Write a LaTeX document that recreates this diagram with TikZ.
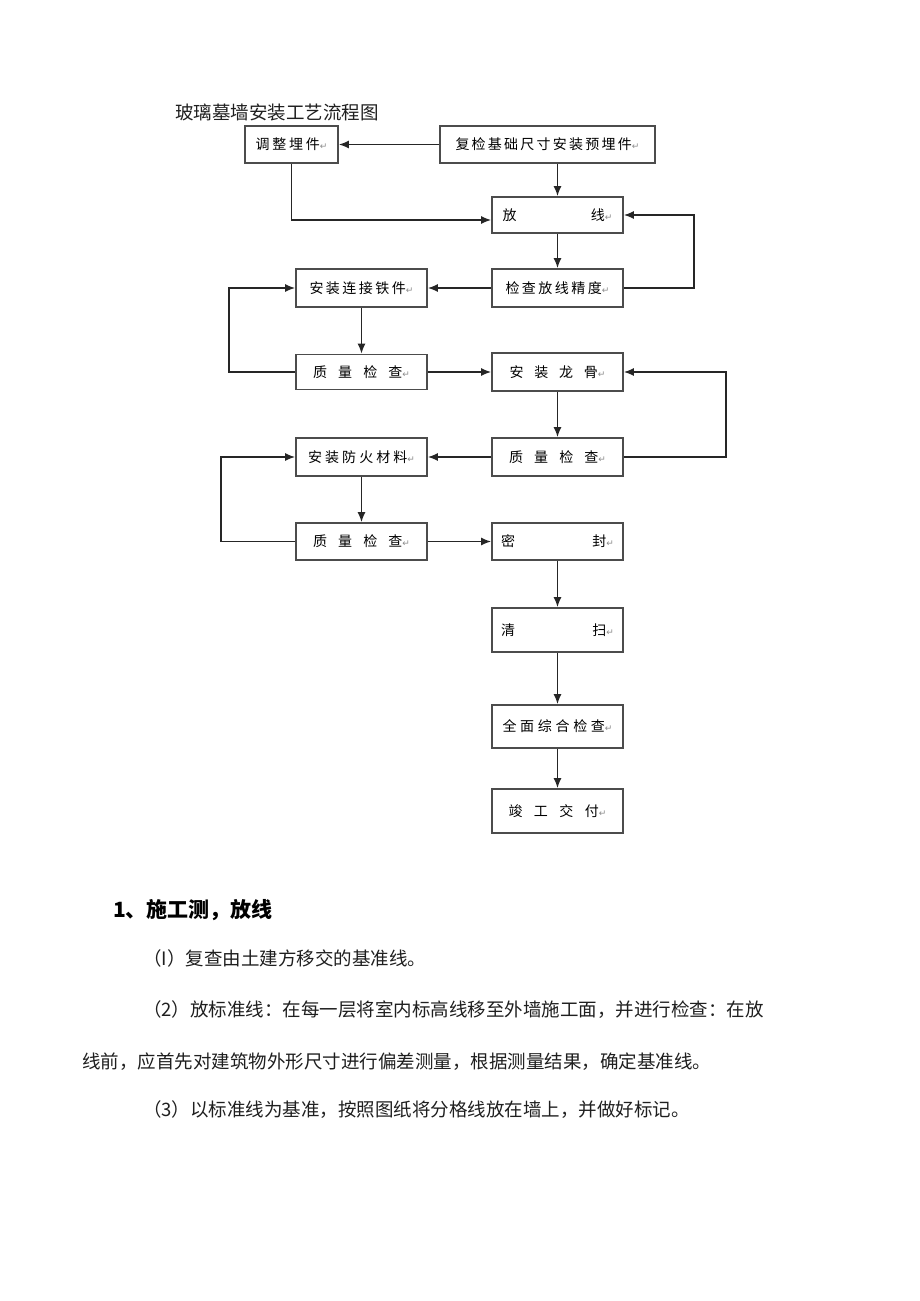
\documentclass[tikz,border=0pt]{standalone}
\usepackage{fontspec}
\setmainfont{Noto Sans CJK SC}
\newfontfamily\symfont{DejaVu Sans}
\usetikzlibrary{arrows.meta}

% return mark printed after each box label
\newcommand{\retmark}{{\symfont\color{black!45}\fontsize{9}{9}\selectfont ↵}}
% spread a label over a given width
\newcommand{\spread}[2]{\makebox[#1][s]{#2}}

\tikzset{
  stepbox/.style={draw=black!70, line width=1.8pt, minimum width=131pt,
    minimum height=37pt, inner sep=0pt, font=\fontsize{14}{15}\selectfont},
  flow/.style={-{Latex[length=10pt,width=8pt]}, line width=1.5pt, draw=black!85},
  bodytext/.style={anchor=west, inner sep=0pt, text=black!88,
    font=\fontsize{18.5}{20}\selectfont}
}

\begin{document}
\begin{tikzpicture}[x=1pt, y=-1pt]
    \useasboundingbox[fill=white] (0,0) rectangle (920,1301);

    % Title
    \node[bodytext] (title) at (175,112) {玻璃墓墙安装工艺流程图};

    % Boxes of the flow chart
    \node[stepbox, minimum width=93pt] (adjust) at (291.5,144.5)
        {\spread{72pt}{调 整 埋 件\retmark}};
    \node[stepbox, minimum width=215pt] (recheck) at (547.5,144.5)
        {\spread{184pt}{复 检 基 础 尺 寸 安 装 预 埋 件\retmark}};
    \node[stepbox, minimum height=36pt] (setout) at (557.5,215)
        {\spread{110pt}{放 线\retmark}};
    \node[stepbox, minimum height=38pt] (checkline) at (557.5,288)
        {\spread{104pt}{检 查 放 线 精 度\retmark}};
    \node[stepbox, minimum height=38pt] (iron) at (361.5,288)
        {\spread{104pt}{安 装 连 接 铁 件\retmark}};
    \node[stepbox, minimum height=35pt] (qcA) at (361.5,372)
        {\spread{97pt}{质 量 检 查\retmark}};
    \node[stepbox, minimum height=38pt] (keel) at (557.5,372)
        {\spread{96pt}{安 装 龙 骨\retmark}};
    \node[stepbox, minimum height=38pt] (qcB) at (557.5,457)
        {\spread{97pt}{质 量 检 查\retmark}};
    \node[stepbox, minimum height=38pt] (fire) at (361.5,457)
        {\spread{107pt}{安 装 防 火 材 料\retmark}};
    \node[stepbox] (qcC) at (361.5,541.5)
        {\spread{97pt}{质 量 检 查\retmark}};
    \node[stepbox] (seal) at (557.5,541.5)
        {\spread{113pt}{密 封\retmark}};
    \node[stepbox, minimum height=44pt] (clean) at (557.5,630)
        {\spread{113pt}{清 扫\retmark}};
    \node[stepbox, minimum height=43pt] (final) at (557.5,726.5)
        {\spread{110pt}{全 面 综 合 检 查\retmark}};
    \node[stepbox, minimum height=44pt] (handover) at (557.5,811)
        {\spread{98pt}{竣 工 交 付\retmark}};

    % Straight arrows
    \draw[flow] (recheck.west) -- (adjust.east);
    \draw[flow] (setout.north |- recheck.south) -- (setout.north);
    \draw[flow] (checkline.west) -- (iron.east);
    \draw[flow] (qcA.east) -- (keel.west);
    \draw[flow] (qcB.west) -- (fire.east);
    \draw[flow] (qcC.east) -- (seal.west);
    \foreach \a/\b in {setout/checkline, iron/qcA, keel/qcB, fire/qcC,
                       seal/clean, clean/final, final/handover}
        \draw[flow] (\a.south) -- (\b.north);

    % Return loops
    \draw[flow] (adjust.south) |- ([yshift=-5pt]setout.west);
    \draw[flow] (checkline.east) -- ++(70,0) |- (setout.east);
    \draw[flow] (qcA.west) -- ++(-66,0) |- (iron.west);
    \draw[flow] (qcB.east) -- ++(102,0) |- (keel.east);
    \draw[flow] (qcC.west) -- ++(-74,0) |- (fire.west);

    % Text below the chart
    \node[bodytext, font=\fontsize{21}{23}\selectfont\bfseries, text=black]
        (head) at (113,910) {1、施工测，放线};
    \node[bodytext] (item1) at (143,958) {（I）复查由土建方移交的基准线。};
    \node[bodytext] (item2) at (143,1010)
        {（2）放标准线：在每一层将室内标高线移至外墙施工面，并进行检查：在放};
    \node[bodytext] (item2b) at (82,1062)
        {线前，应首先对建筑物外形尺寸进行偏差测量，根据测量结果，确定基准线。};
    \node[bodytext] (item3) at (143,1110)
        {（3）以标准线为基准，按照图纸将分格线放在墙上，并做好标记。};
\end{tikzpicture}
\end{document}
